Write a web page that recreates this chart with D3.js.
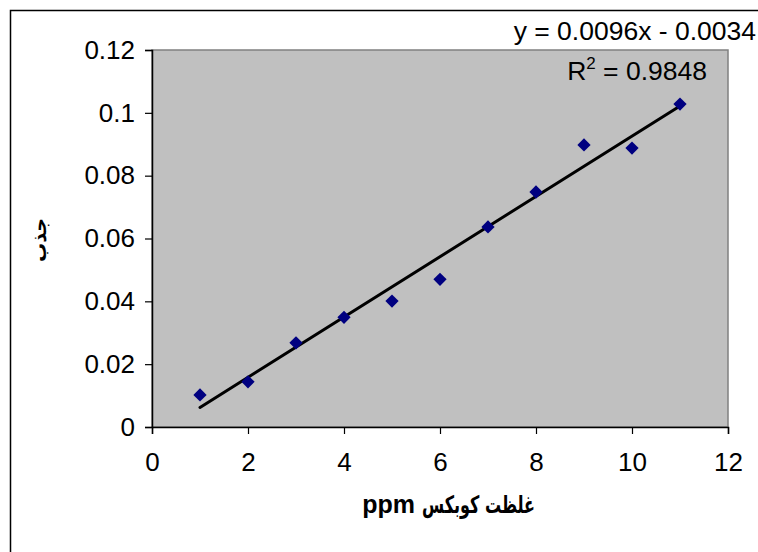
<!DOCTYPE html>
<html>
<head>
<meta charset="utf-8">
<script src="https://cdn.jsdelivr.net/npm/d3@7"></script>
<style>
  body { margin: 0; background: #fff; }
  svg { display: block; font-family: "Liberation Sans", Arial, "DejaVu Sans", sans-serif; }
</style>
</head>
<body>
<svg id="chart" width="758" height="552"></svg>
<script>
// concentration (ppm) vs absorbance
var conc = [1, 2, 3, 4, 5, 6, 7, 8, 9, 10, 11];
var absorb = [0.0102, 0.0144, 0.0268, 0.0349, 0.0401, 0.0470, 0.0637, 0.0748, 0.0898, 0.0888, 0.1028];
var xTicks = [0, 2, 4, 6, 8, 10, 12];
var yTicks = [0, 0.02, 0.04, 0.06, 0.08, 0.1, 0.12];
var trendCoef = [0.0096, -0.0034]; // slope, intercept
var eqLabel = "y = 0.0096x - 0.0034";
var r2Value = "0.9848";
var xTitleFa = "غلظت کوبکس";
var xTitleUnit = "ppm";
var yTitle = "جذب";

var svg = d3.select("#chart");

// outer chart border (runs past the window on right and bottom)
svg.append("rect")
    .attr("x", 10.5).attr("y", 10.5)
    .attr("width", 900).attr("height", 700)
    .attr("fill", "none").attr("stroke", "#000").attr("stroke-width", 1.5);

var plotL = 152, plotR = 728, plotT = 50, plotB = 427;

var x = d3.scaleLinear().domain([0, 12]).range([plotL, plotR]);
var y = d3.scaleLinear().domain([0, 0.12]).range([plotB, plotT]);

// plot area
svg.append("rect")
    .attr("x", plotL).attr("y", plotT)
    .attr("width", plotR - plotL).attr("height", plotB - plotT)
    .attr("fill", "#c0c0c0").attr("stroke", "#808080").attr("stroke-width", 1.5);

var xAxis = svg.append("g")
    .attr("transform", "translate(0," + plotB + ")")
    .call(d3.axisBottom(x).tickValues(xTicks).tickSize(7).tickPadding(19).tickFormat(d3.format("d")));
var yAxis = svg.append("g")
    .attr("transform", "translate(" + plotL + ",0)")
    .call(d3.axisLeft(y).tickValues(yTicks).tickSize(7).tickPadding(10).tickFormat(function (d) { return d === 0 ? "0" : String(+d.toFixed(2)); }));

[xAxis, yAxis].forEach(function (g) {
  g.select(".domain").attr("stroke", "#000").attr("stroke-width", 1.5);
  g.selectAll(".tick line").attr("stroke", "#000").attr("stroke-width", 1.2);
  g.selectAll(".tick text").attr("fill", "#000").style("font-size", "26px")
      .style("font-family", "'Liberation Sans', Arial, sans-serif");
});

// trendline
svg.append("line")
    .attr("x1", x(conc[0])).attr("y1", y(trendCoef[0] * conc[0] + trendCoef[1]))
    .attr("x2", x(conc[conc.length - 1])).attr("y2", y(trendCoef[0] * conc[conc.length - 1] + trendCoef[1]))
    .attr("stroke", "#000").attr("stroke-width", 3).attr("stroke-linecap", "round");

// markers
svg.append("g").selectAll("path")
    .data(conc)
    .join("path")
    .attr("d", d3.symbol(d3.symbolSquare, 88))
    .attr("transform", function (d, i) { return "translate(" + x(d) + "," + y(absorb[i]) + ") rotate(45)"; })
    .attr("fill", "#000080");

// equation labels
svg.append("text")
    .attr("x", 756).attr("y", 40)
    .attr("text-anchor", "end").style("font-size", "26.5px")
    .text(eqLabel);
var r2 = svg.append("text")
    .attr("x", 707).attr("y", 80)
    .attr("text-anchor", "end").style("font-size", "26.5px");
r2.append("tspan").text("R");
r2.append("tspan").attr("dy", -11).style("font-size", "17px").text("2");
r2.append("tspan").attr("dy", 11).text(" = " + r2Value);

// axis titles
svg.append("text")
    .attr("x", 415).attr("y", 513)
    .attr("text-anchor", "end")
    .style("font-size", "25px").style("font-weight", "bold")
    .text(xTitleUnit);
svg.append("text")
    .attr("x", 535).attr("y", 513)
    .attr("text-anchor", "start")
    .attr("direction", "rtl")
    .attr("textLength", 113).attr("lengthAdjust", "spacingAndGlyphs")
    .style("font-size", "24px").style("font-weight", "bold")
    .style("font-family", "'DejaVu Sans', sans-serif")
    .text(xTitleFa);
svg.append("text")
    .attr("transform", "translate(46,240) rotate(-90)")
    .attr("text-anchor", "middle")
    .style("font-size", "19px").style("font-weight", "bold")
    .style("font-family", "'DejaVu Sans', sans-serif")
    .text(yTitle);
</script>
</body>
</html>
